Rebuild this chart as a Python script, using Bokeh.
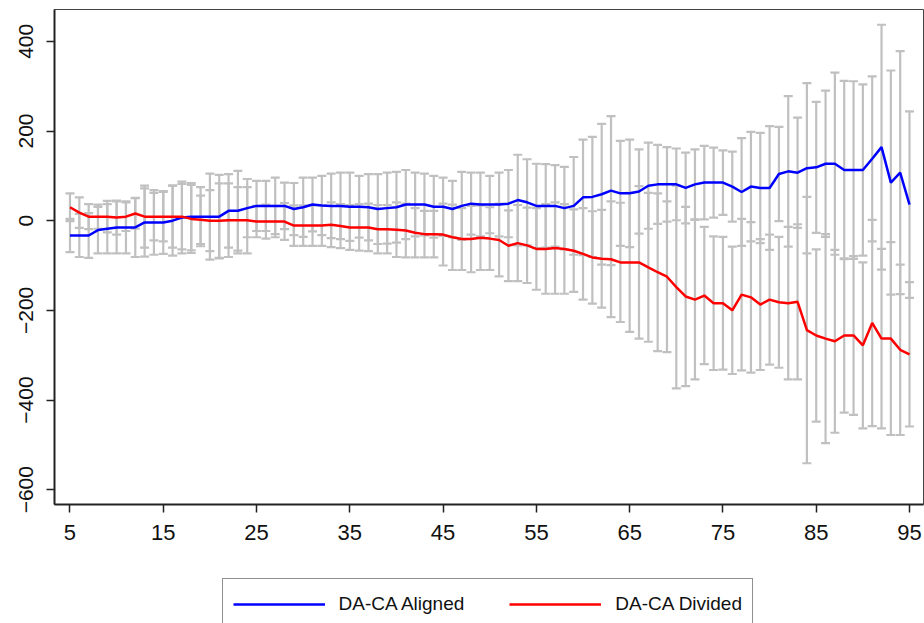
from bokeh.plotting import figure
from bokeh.layouts import column
from bokeh.models import Range1d, Legend, LegendItem, ColumnDataSource
from bokeh.embed import file_html
from bokeh.resources import INLINE

# ---- data ----
pct = list(range(5, 96))

aligned = [-33, -33, -33, -21, -18, -15, -15, -15, -4, -4,
           -4, 0, 7, 9, 9, 9, 9, 22, 22, 28,
           33, 33, 33, 33, 26, 30, 36, 34, 33, 33,
           31, 31, 30, 26, 28, 30, 36, 36, 36, 31,
           31, 26, 33, 38, 36, 36, 36, 38, 46, 41,
           33, 33, 33, 28, 33, 52, 53, 59, 67, 61,
           61, 65, 78, 81, 81, 81, 73, 81, 85, 85,
           85, 76, 64, 76, 73, 73, 104, 110, 107, 117,
           119, 127, 127, 113, 113, 113, 138, 164, 85, 107,
           36]

aligned_ci = [37, 48, 50, 52, 55, 58, 58, 66, 76, 72,
              70, 78, 80, 75, 66, 96, 93, 82, 89, 65,
              56, 56, 63, 52, 58, 66, 60, 66, 72, 74,
              76, 69, 74, 78, 79, 79, 77, 71, 69, 69,
              65, 63, 76, 69, 71, 64, 71, 75, 101, 96,
              94, 93, 91, 92, 109, 129, 134, 157, 166, 117,
              120, 94, 96, 88, 83, 80, 79, 78, 82, 78,
              72, 78, 120, 122, 123, 138, 105, 168, 123, 190,
              146, 163, 203, 199, 198, 191, 184, 273, 250, 271,
              208]

divided = [30, 18, 9, 9, 9, 7, 9, 16, 9, 9,
           9, 9, 9, 4, 2, 0, 0, 1, 1, 1,
           -2, -2, -2, -2, -11, -11, -11, -11, -9, -12,
           -15, -15, -15, -19, -19, -20, -22, -27, -30, -30,
           -31, -37, -41, -41, -38, -40, -43, -56, -50, -55,
           -63, -63, -61, -63, -67, -74, -82, -85, -86, -93,
           -93, -93, -104, -115, -125, -148, -169, -176, -167, -184,
           -184, -200, -165, -171, -187, -176, -182, -184, -181, -244,
           -256, -263, -269, -256, -256, -278, -228, -263, -263, -288,
           -298]

divided_ci = [31, 34, 28, 27, 35, 38, 32, 34, 69, 53,
              55, 69, 73, 76, 54, 68, 83, 82, 74, 74,
              35, 38, 35, 41, 45, 45, 45, 45, 50, 49,
              50, 52, 53, 54, 54, 61, 60, 55, 52, 52,
              69, 73, 69, 74, 72, 70, 81, 79, 85, 84,
              91, 100, 102, 100, 92, 102, 103, 109, 129, 133,
              155, 170, 166, 176, 168, 226, 200, 178, 153, 149,
              148, 142, 169, 168, 146, 145, 146, 170, 173, 297,
              192, 233, 204, 172, 177, 185, 230, 200, 215, 190,
              161]

series_names = ["DA-CA Aligned", "DA-CA Divided"]
series_colors = ["#0000ff", "#ff0000"]
x_ticks = [5, 15, 25, 35, 45, 55, 65, 75, 85, 95]
y_ticks = [-600, -400, -200, 0, 200, 400]

# ---- sources ----
src_a = ColumnDataSource(dict(
    x=pct, y=aligned,
    lo=[v - c for v, c in zip(aligned, aligned_ci)],
    hi=[v + c for v, c in zip(aligned, aligned_ci)]))
src_d = ColumnDataSource(dict(
    x=pct, y=divided,
    lo=[v - c for v, c in zip(divided, divided_ci)],
    hi=[v + c for v, c in zip(divided, divided_ci)]))

FONT = "Liberation Sans"
GRAY = "#c0c0c0"

p = figure(width=924, height=560, output_backend="svg", toolbar_location=None,
           x_range=Range1d(3.34, 96.5), y_range=Range1d(-633, 471),
           min_border_left=54, min_border_top=9, min_border_right=1,
           min_border_bottom=56, background_fill_color="white",
           border_fill_color="white")

# error bars (gray caps)
for src in (src_d, src_a):
    p.segment(x0="x", y0="lo", x1="x", y1="hi", source=src,
              line_color=GRAY, line_width=2.2)
    p.scatter(x="x", y="lo", source=src, marker="dash", size=9,
              line_color=GRAY, line_width=2.2)
    p.scatter(x="x", y="hi", source=src, marker="dash", size=9,
              line_color=GRAY, line_width=2.2)

p.line(x="x", y="y", source=src_a, line_color=series_colors[0], line_width=2.5)
p.line(x="x", y="y", source=src_d, line_color=series_colors[1], line_width=2.5)

# axes
p.xgrid.visible = False
p.ygrid.visible = False
p.xaxis.ticker = x_ticks
p.yaxis.ticker = y_ticks
for ax in (p.xaxis, p.yaxis):
    ax.minor_tick_line_color = None
    ax.major_tick_in = 0
    ax.major_tick_out = 8
    ax.major_tick_line_color = "#222222"
    ax.major_tick_line_width = 1.5
    ax.axis_line_color = "#222222"
    ax.axis_line_width = 2
    ax.major_label_text_font = FONT
    ax.major_label_text_color = "#111111"
p.xaxis.major_label_text_font_size = "22px"
p.xaxis.major_label_standoff = 12
p.yaxis.major_label_text_font_size = "21px"
p.yaxis.major_label_orientation = "parallel"
p.yaxis.major_label_standoff = 13
p.outline_line_color = "#444444"
p.outline_line_width = 1

# ---- legend strip below the plot ----
pl = figure(width=924, height=63, output_backend="svg", toolbar_location=None,
            x_range=Range1d(0, 1), y_range=Range1d(0, 1),
            min_border_left=0, min_border_right=0, min_border_top=0,
            min_border_bottom=0, background_fill_color="white",
            border_fill_color="white")
pl.axis.visible = False
pl.grid.visible = False
pl.outline_line_color = None
# legend-only renderers, kept outside the visible range of this strip
la = pl.line(x=[2, 3], y=[2, 2], line_color=series_colors[0], line_width=2.5)
ld = pl.line(x=[2, 3], y=[2, 2], line_color=series_colors[1], line_width=2.5)

legend = Legend(items=[LegendItem(label=series_names[0], renderers=[la]),
                       LegendItem(label=series_names[1], renderers=[ld])],
                orientation="horizontal", location=(167.6, -7),
                glyph_width=92, glyph_height=30, label_standoff=14,
                spacing=45, padding=10, margin=0,
                border_line_color="#222222", border_line_width=1.5,
                background_fill_color="white", background_fill_alpha=1,
                label_text_font=FONT, label_text_font_size="19px",
                label_text_color="#111111")
pl.add_layout(legend)

open("out.html", "w").write(file_html(column(p, pl, spacing=0), INLINE))
